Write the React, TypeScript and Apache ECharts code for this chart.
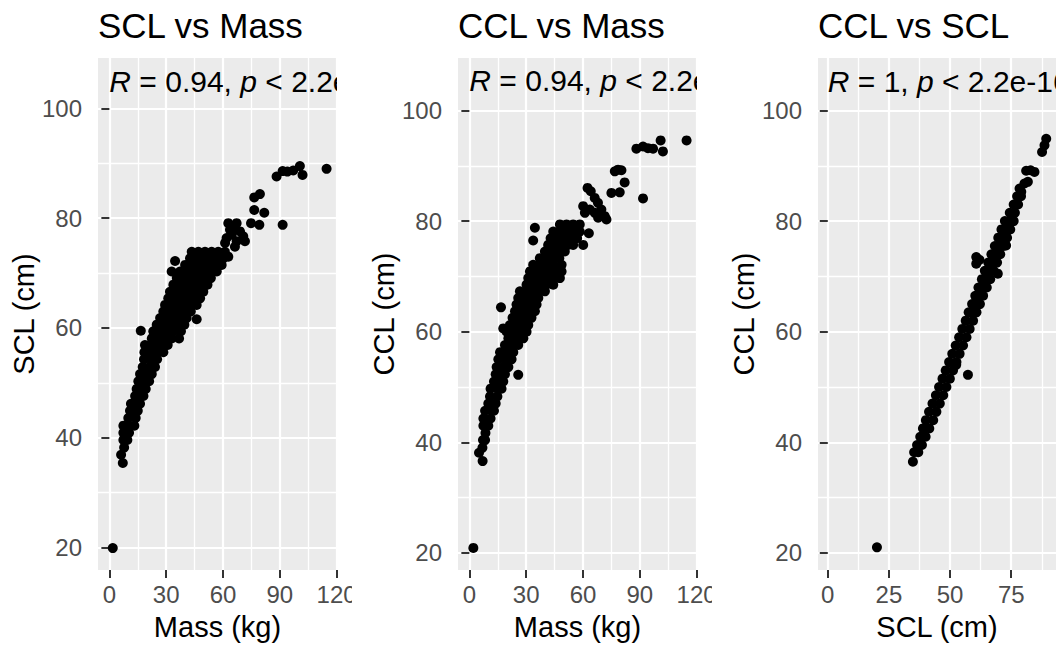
import React, { useEffect, useRef } from "react";
import * as echarts from "echarts";

const FONT = "'Liberation Sans', Arial, sans-serif";

const panelTitles = ["SCL vs Mass", "CCL vs Mass", "CCL vs SCL"];
const xNames = ["Mass (kg)", "Mass (kg)", "SCL (cm)"];
const yNames = ["SCL (cm)", "CCL (cm)", "CCL (cm)"];
const xRanges = [[-6, 120.2], [-6, 120.2], [-4, 93.3]];
const yRanges = [[15.9, 109.2], [16.9, 109.5], [16.9, 109.5]];
const xMajor = [[0, 30, 60, 90, 120], [0, 30, 60, 90, 120], [0, 25, 50, 75]];
const xMinor = [[15, 45, 75, 105], [15, 45, 75, 105], [12.5, 37.5, 62.5, 87.5]];
const yMajor = [20, 40, 60, 80, 100];
const yMinor = [30, 50, 70, 90];
const corLabels = [
  "{i|R} = 0.94, {i|p} < 2.2e-16",
  "{i|R} = 0.94, {i|p} < 2.2e-16",
  "{i|R} = 1, {i|p} < 2.2e-16",
];
const corPos = [[0, 105.0], [0, 105.4], [0, 105.3]];

// Mass (kg) vs SCL (cm)
const massScl: number[][] = [
  [114.7, 89.0], [100.6, 89.5], [102.0, 87.9], [97.1, 88.7], [94.0, 88.5], [91.5, 88.6], [88.3, 87.6],
  [79.5, 84.4], [76.5, 83.8], [76.5, 81.5], [81.8, 81.0], [91.5, 78.8], [74.8, 79.1], [79.2, 78.8],
  [62.8, 79.1], [67.2, 79.1], [65.5, 78.2], [69.0, 77.6], [63.7, 77.9], [64.6, 77.0], [70.7, 76.7],
  [61.9, 76.4], [67.2, 75.8], [71.6, 75.8], [61.1, 75.5], [66.3, 74.8], [62.8, 73.0],
  [34.7, 72.2], [32.9, 70.3], [46.1, 61.6], [16.6, 59.5], [1.8, 19.9],
  [43.5, 73.9], [47.0, 73.9], [50.5, 73.9], [54.0, 73.9], [57.5, 73.9], [61.0, 73.9],
  [42.6, 72.7], [46.1, 72.7], [49.6, 72.7], [53.1, 72.7], [56.7, 72.7], [60.2, 72.7],
  [40.0, 71.5], [43.5, 71.5], [47.0, 71.5], [50.5, 71.5], [54.0, 71.5], [57.5, 71.5], [59.3, 71.5],
  [37.3, 70.3], [40.8, 70.3], [44.3, 70.3], [47.9, 70.3], [51.4, 70.3], [54.9, 70.3], [56.7, 70.3],
  [35.6, 69.1], [39.1, 69.1], [42.6, 69.1], [46.1, 69.1], [49.6, 69.1], [53.6, 69.1],
  [33.8, 67.9], [37.3, 67.9], [40.8, 67.9], [44.3, 67.9], [47.9, 67.9], [51.8, 67.9],
  [32.0, 66.6], [35.6, 66.6], [39.1, 66.6], [42.6, 66.6], [46.1, 66.6], [49.6, 66.6],
  [31.1, 65.4], [34.7, 65.4], [38.2, 65.4], [41.7, 65.4], [45.2, 65.4], [47.9, 65.4],
  [29.4, 64.2], [32.9, 64.2], [36.4, 64.2], [39.9, 64.2], [43.5, 64.2], [46.1, 64.2],
  [28.5, 63.0], [32.0, 63.0], [35.6, 63.0], [39.1, 63.0], [43.0, 63.0],
  [26.8, 61.8], [30.3, 61.8], [33.8, 61.8], [37.3, 61.8], [40.8, 61.8],
  [25.0, 60.6], [28.5, 60.6], [32.0, 60.6], [35.6, 60.6], [39.6, 60.6],
  [23.2, 59.4], [26.8, 59.4], [30.3, 59.4], [33.8, 59.4], [37.8, 59.4],
  [22.4, 58.1], [25.9, 58.1], [29.4, 58.1], [32.9, 58.1], [36.8, 58.1],
  [18.8, 56.9], [22.4, 56.9], [25.9, 56.9], [29.4, 56.9], [30.8, 56.9],
  [18.5, 55.6], [22.0, 55.6], [25.5, 55.6], [28.5, 55.6],
  [18.3, 54.3], [21.8, 54.3], [25.2, 54.3],
  [17.6, 52.9], [21.1, 52.9], [24.1, 52.9],
  [16.2, 51.6], [19.7, 51.6], [22.4, 51.6],
  [15.3, 50.3], [18.8, 50.3], [21.0, 50.3],
  [14.4, 48.9], [17.0, 48.9], [19.2, 48.9],
  [13.6, 47.6], [16.0, 47.6], [18.0, 47.6],
  [11.4, 46.2], [14.0, 46.2], [16.2, 46.2],
  [10.9, 44.9], [13.0, 44.9], [15.0, 44.9],
  [10.0, 43.6], [13.9, 43.6],
  [7.4, 42.2], [10.6, 42.2], [13.2, 42.2],
  [7.4, 40.9], [10.4, 40.9],
  [7.4, 39.6], [9.5, 39.6],
  [7.8, 38.2], [6.2, 36.9], [7.1, 35.4],
];

// Mass (kg) vs CCL (cm)
const massCcl: number[][] = [
  [114.7, 94.6], [101.0, 94.6], [102.2, 92.6], [97.0, 93.1], [94.3, 93.2], [91.7, 93.5], [88.2, 93.1],
  [76.8, 89.0], [80.3, 89.2], [78.5, 89.3], [82.0, 87.0], [75.0, 85.1], [79.4, 85.2], [91.7, 84.1],
  [62.4, 86.0], [64.1, 85.4], [66.2, 84.2], [67.9, 83.3], [69.7, 82.1], [71.5, 80.9], [72.4, 80.3],
  [60.1, 82.7], [61.0, 81.5], [63.6, 82.1], [66.2, 81.5], [68.0, 80.6],
  [34.6, 78.8], [33.7, 76.5], [63.1, 77.8], [60.1, 75.7], [16.7, 64.4], [17.9, 60.6], [25.8, 52.2], [2.1, 20.9],
  [47.8, 79.4], [51.3, 79.4], [54.8, 79.4], [58.3, 79.4],
  [44.3, 78.1], [47.8, 78.1], [51.3, 78.1], [54.8, 78.1], [58.3, 78.1],
  [42.9, 76.9], [46.4, 76.9], [49.9, 76.9], [53.4, 76.9], [56.9, 76.9],
  [41.6, 75.7], [45.1, 75.7], [48.6, 75.7], [52.1, 75.7], [54.8, 75.7],
  [39.9, 74.5], [43.4, 74.5], [46.9, 74.5], [50.4, 74.5],
  [37.2, 73.3], [40.7, 73.3], [44.2, 73.3], [47.5, 73.3],
  [33.7, 72.1], [37.2, 72.1], [40.8, 72.1], [44.3, 72.1], [48.7, 72.1],
  [32.0, 70.9], [35.5, 70.9], [39.0, 70.9], [42.5, 70.9], [46.0, 70.9], [48.7, 70.9],
  [31.1, 69.7], [34.6, 69.7], [38.1, 69.7], [41.6, 69.7], [45.1, 69.7], [47.8, 69.7],
  [30.2, 68.5], [33.7, 68.5], [37.2, 68.5], [40.7, 68.5], [44.3, 68.5],
  [26.7, 67.3], [30.2, 67.3], [33.7, 67.3], [37.2, 67.3], [39.9, 67.3],
  [25.8, 66.1], [29.3, 66.1], [32.8, 66.1], [36.4, 66.1],
  [24.9, 64.9], [28.4, 64.9], [31.9, 64.9], [35.5, 64.9],
  [24.1, 63.7], [27.6, 63.7], [31.1, 63.7], [34.6, 63.7],
  [22.8, 62.5], [26.3, 62.5], [29.8, 62.5], [32.8, 62.5],
  [21.4, 61.2], [24.9, 61.2], [28.4, 61.2], [31.1, 61.2],
  [19.7, 60.0], [23.2, 60.0], [26.7, 60.0], [30.2, 60.0],
  [20.6, 58.8], [24.1, 58.8], [28.5, 58.8],
  [18.8, 57.6], [22.3, 57.6], [25.8, 57.6],
  [16.2, 56.3], [19.7, 56.3], [23.2, 56.3],
  [15.3, 55.0], [18.8, 55.0], [22.3, 55.0],
  [14.4, 53.6], [17.9, 53.6], [20.6, 53.6],
  [13.9, 52.3], [16.5, 52.3], [18.8, 52.3],
  [13.0, 51.0], [15.5, 51.0], [17.9, 51.0],
  [11.2, 49.7], [14.8, 49.7], [17.0, 49.7],
  [10.9, 48.3], [14.8, 48.3],
  [10.0, 47.0], [13.9, 47.0],
  [8.3, 45.7], [11.9, 45.7], [13.0, 45.7],
  [7.4, 44.3], [11.2, 44.3],
  [7.4, 43.0], [10.0, 43.0],
  [8.5, 41.7], [7.2, 40.4], [8.3, 40.4],
  [6.9, 39.0], [5.1, 38.1], [7.0, 36.6],
];

// SCL (cm) vs CCL (cm)
const sclCcl: number[][] = [
  [89.3, 94.9], [88.6, 93.7], [87.6, 92.5], [81.1, 89.1], [84.5, 88.9], [82.9, 89.2], [81.8, 87.1],
  [80.4, 86.8], [79.1, 85.3], [78.4, 85.9],
  [60.7, 73.5], [60.7, 72.3], [62.0, 73.0], [69.5, 70.5], [72.9, 75.6], [57.3, 52.2], [52.5, 54.0], [20.1, 21.0],
  [77.4, 84.5], [79.0, 84.5],
  [76.0, 83.0], [77.8, 83.0],
  [74.4, 81.5], [76.5, 81.5],
  [72.4, 80.0], [74.2, 80.0], [76.0, 80.0],
  [71.0, 78.5], [72.8, 78.5], [74.6, 78.5],
  [69.7, 77.0], [71.5, 77.0], [73.3, 77.0],
  [68.3, 75.5], [70.1, 75.5], [71.9, 75.5],
  [66.9, 74.0], [68.7, 74.0], [70.5, 74.0],
  [65.6, 72.5], [67.4, 72.5], [69.2, 72.5],
  [64.2, 71.0], [66.0, 71.0], [67.8, 71.0],
  [63.0, 69.5], [64.7, 69.5], [66.4, 69.5],
  [61.6, 68.0], [63.3, 68.0], [65.0, 68.0],
  [60.3, 66.5], [61.9, 66.5], [63.5, 66.5],
  [59.0, 65.0], [60.6, 65.0], [62.2, 65.0],
  [57.6, 63.5], [59.2, 63.5], [60.8, 63.5],
  [56.4, 62.0], [59.4, 62.0],
  [55.0, 60.5], [58.0, 60.5],
  [53.7, 59.0], [56.7, 59.0],
  [52.3, 57.5], [55.3, 57.5],
  [50.9, 56.0], [53.9, 56.0],
  [49.6, 54.5], [52.6, 54.5],
  [48.2, 53.0], [51.2, 53.0],
  [46.9, 51.5], [49.9, 51.5],
  [45.5, 50.0], [48.5, 50.0],
  [44.2, 48.5], [47.2, 48.5],
  [42.8, 47.0], [45.8, 47.0],
  [41.4, 45.5], [44.4, 45.5],
  [40.1, 44.0], [43.1, 44.0],
  [38.9, 42.5], [41.5, 42.5],
  [37.8, 41.0], [40.0, 41.0],
  [36.5, 39.5], [38.5, 39.5],
  [35.3, 38.2], [37.0, 38.2],
  [34.8, 36.5],
];

const panelData = [massScl, massCcl, sclCcl];

const gridRects = [
  { left: 98, top: 58, width: 239, height: 512 },
  { left: 458, top: 58, width: 239, height: 512 },
  { left: 818, top: 58, width: 238, height: 512 },
];

function buildOption() {
  const grid: any[] = [];
  const xAxis: any[] = [];
  const yAxis: any[] = [];
  const series: any[] = [];
  const title: any[] = [];

  for (let i = 0; i < 3; i++) {
    const r = gridRects[i];
    grid.push({
      ...r,
      show: true,
      backgroundColor: "#EBEBEB",
      borderWidth: 0,
      containLabel: false,
    });
    title.push({
      text: panelTitles[i],
      left: r.left,
      top: 8,
      padding: 0,
      textStyle: { fontFamily: FONT, fontSize: 35, fontWeight: "normal", color: "#000" },
    });
    xAxis.push({
      type: "value",
      gridIndex: i,
      position: "bottom",
      min: xRanges[i][0],
      max: xRanges[i][1],
      name: xNames[i],
      nameLocation: "middle",
      nameGap: 42,
      nameTextStyle: { fontFamily: FONT, fontSize: 29, color: "#000" },
      axisLine: { show: false },
      axisTick: {
        show: true,
        length: 8,
        lineStyle: { color: "#333333", width: 2 },
        customValues: xMajor[i],
      },
      axisLabel: {
        show: true,
        margin: 12,
        fontFamily: FONT,
        fontSize: 24,
        color: "#4D4D4D",
        customValues: xMajor[i],
        showMinLabel: true,
        showMaxLabel: true,
      },
      splitLine: { show: true, lineStyle: { color: "#FFFFFF", width: 2.2 } },
      z: 1,
    });
    xAxis.push({
      type: "value",
      gridIndex: i,
      position: "top",
      min: xRanges[i][0],
      max: xRanges[i][1],
      axisLine: { show: false },
      axisTick: { show: false, customValues: xMinor[i] },
      axisLabel: { show: false },
      splitLine: { show: true, lineStyle: { color: "#FFFFFF", width: 1.3 } },
      z: 1,
    });
    yAxis.push({
      type: "value",
      gridIndex: i,
      position: "left",
      min: yRanges[i][0],
      max: yRanges[i][1],
      name: yNames[i],
      nameLocation: "middle",
      nameGap: 60,
      nameRotate: 90,
      nameTextStyle: { fontFamily: FONT, fontSize: 29, color: "#000" },
      axisLine: { show: false },
      axisTick: {
        show: true,
        length: 8,
        lineStyle: { color: "#333333", width: 2 },
        customValues: yMajor,
      },
      axisLabel: {
        show: true,
        margin: 16,
        fontFamily: FONT,
        fontSize: 24,
        color: "#4D4D4D",
        customValues: yMajor,
      },
      splitLine: { show: true, lineStyle: { color: "#FFFFFF", width: 2.2 } },
      z: 1,
    });
    yAxis.push({
      type: "value",
      gridIndex: i,
      position: "right",
      min: yRanges[i][0],
      max: yRanges[i][1],
      axisLine: { show: false },
      axisTick: { show: false, customValues: yMinor },
      axisLabel: { show: false },
      splitLine: { show: true, lineStyle: { color: "#FFFFFF", width: 1.3 } },
      z: 1,
    });

    series.push({
      type: "scatter",
      xAxisIndex: i * 2,
      yAxisIndex: i * 2,
      data: panelData[i],
      symbol: "circle",
      symbolSize: 10,
      itemStyle: { color: "#000000", opacity: 1 },
      silent: true,
      z: 3,
    });

    const label = corLabels[i];
    series.push({
      type: "custom",
      xAxisIndex: i * 2,
      yAxisIndex: i * 2,
      clip: true,
      silent: true,
      z: 4,
      data: [corPos[i]],
      renderItem: (params: any, api: any) => {
        const p = api.coord([api.value(0), api.value(1)]);
        return {
          type: "text",
          x: p[0],
          y: p[1],
          style: {
            text: label,
            fontFamily: FONT,
            fontSize: 30,
            fill: "#000000",
            align: "left",
            verticalAlign: "middle",
            rich: {
              i: { fontFamily: FONT, fontSize: 30, fontStyle: "italic", fill: "#000000" },
            },
          },
        };
      },
    });
  }

  return {
    animation: false,
    backgroundColor: "#FFFFFF",
    title,
    grid,
    xAxis,
    yAxis,
    series,
    graphic: [
      { type: "rect", z: 100, shape: { x: 352, y: 576, width: 12, height: 36 }, style: { fill: "#FFFFFF" } },
      { type: "rect", z: 100, shape: { x: 712, y: 576, width: 12, height: 36 }, style: { fill: "#FFFFFF" } },
    ],
  };
}

export default function App() {
  const ref = useRef<HTMLDivElement>(null);
  useEffect(() => {
    if (!ref.current) return;
    const chart = echarts.init(ref.current, undefined, { renderer: "svg" });
    chart.setOption(buildOption() as any);
    return () => chart.dispose();
  }, []);
  return (
    <div
      ref={ref}
      style={{ position: "fixed", left: 0, top: 0, width: 1064, height: 650, background: "#FFFFFF" }}
    />
  );
}
